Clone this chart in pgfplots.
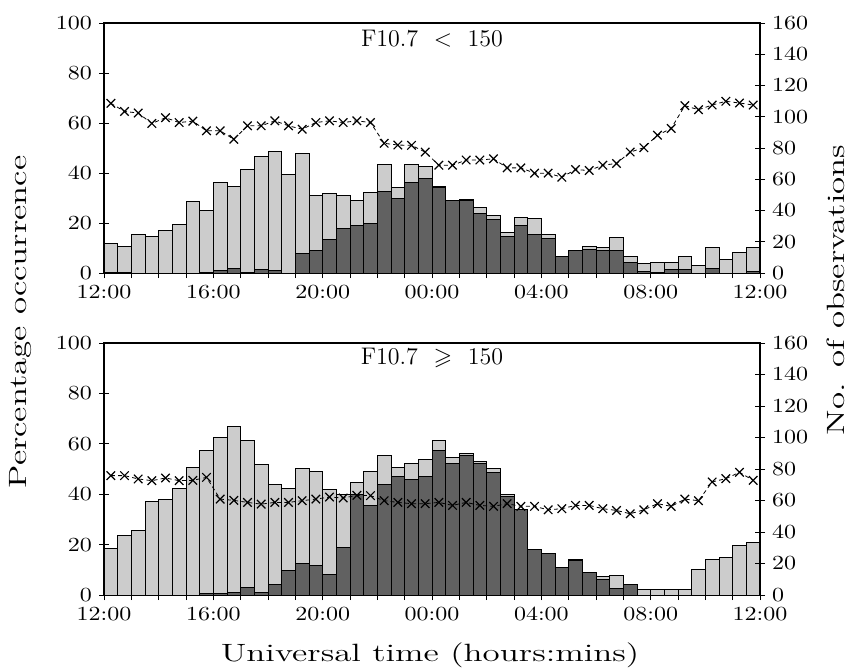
\documentclass[border=0pt]{standalone}
\usepackage{amssymb}
\usepackage{graphicx}
\usepackage{fontspec}
\usepackage{pgfplots}
\usepackage{pgfplotstable}
\pgfplotsset{compat=1.18}
\definecolor{lightc}{gray}{0.80}
\definecolor{darkc}{gray}{0.38}
\newcommand\lbl{\fontsize{12.5}{14}\selectfont}
\newcommand\wide[1]{\scalebox{1.4}[1]{#1}}
\newcommand\tl[1]{\scalebox{1.2}[1]{#1}}
\newcommand\ttl{\fontsize{12}{14}\selectfont}

\pgfplotstableread{
x L1 D1 C1 L2 D2 C2
0.25 12.0 0.3 108.6 18.4 0 75.8
0.75 10.5 0.3 103.4 23.5 0 75.8
1.25 15.5 0 102.4 25.7 0 73.7
1.75 14.7 0 95.7 37.0 0 72.6
2.25 17.0 0 99.4 37.8 0 74.3
2.75 19.5 0 96.3 42.4 0 72.6
3.25 28.8 0 97.2 50.8 0 72.8
3.75 25.1 0.4 91.0 57.3 0.6 74.7
4.25 36.2 1.0 91.0 62.4 0.6 60.9
4.75 34.8 1.8 85.6 66.8 1.0 60.1
5.25 41.4 0.4 94.2 61.3 3.1 58.8
5.75 46.8 1.3 94.2 51.7 0.9 57.7
6.25 48.5 1.0 97.4 44.0 4.3 58.8
6.75 39.4 0 94.2 42.4 9.6 58.8
7.25 47.7 7.8 92.0 50.1 12.4 59.9
7.75 31.2 9.1 96.3 49.2 11.8 60.9
8.25 32.0 13.4 97.4 42.0 8.2 62.2
8.75 31.2 17.9 96.3 39.8 18.9 61.6
9.25 28.9 19.2 97.4 44.5 40.0 63.3
9.75 32.4 19.9 96.3 49.2 35.5 63.1
10.25 43.4 32.7 83.0 55.2 43.8 59.9
10.75 34.3 30.0 81.9 50.8 46.9 58.8
11.25 43.3 36.4 81.7 52.1 45.9 58.0
11.75 42.7 37.8 77.4 53.9 47.2 58.0
12.25 34.7 34.4 69.0 61.4 57.4 58.8
12.75 28.9 28.9 69.0 54.5 52.1 56.9
13.25 29.3 29.0 72.3 56.1 55.2 58.8
13.75 26.3 23.7 72.3 52.9 52.1 56.9
14.25 23.0 21.5 73.1 50.3 48.5 56.3
14.75 16.3 14.8 67.3 39.9 39.2 58.0
15.25 22.4 19.1 67.3 33.9 33.9 56.3
15.75 21.9 15.5 63.9 18.0 18.0 56.3
16.25 15.5 13.7 63.9 16.6 16.6 54.1
16.75 6.7 6.7 61.3 11.0 11.0 54.8
17.25 9.1 8.9 66.2 14.2 13.6 56.9
17.75 10.6 9.5 65.6 9.0 9.0 56.9
18.25 10.2 9.1 69.0 7.3 6.0 54.8
18.75 14.2 9.0 70.1 7.6 2.7 53.7
19.25 6.5 4.2 77.4 4.0 4.0 51.6
19.75 3.8 0.8 80.2 2.3 0 54.1
20.25 4.4 0.4 88.2 2.0 0 58.0
20.75 4.2 1.3 92.5 2.3 0 56.3
21.25 6.5 1.3 107.1 2.0 0 60.9
21.75 3.0 0 104.5 10.2 0 59.9
22.25 10.2 1.7 107.5 14.0 0 71.8
22.75 5.4 0 109.9 15.0 0 73.9
23.25 8.1 0 108.8 19.5 0 77.9
23.75 10.2 0.8 107.5 20.9 0 72.8
}\data

\pgfplotsset{
  panel/.style={
    scale only axis, width=328pt, xmin=0, xmax=24,
    tick align=center, major tick length=5pt, minor tick length=5pt,
    every tick/.style={black, line width=0.5pt},
    axis line style={line width=0.6pt},
    tick label style={font=\fontsize{10}{12}\selectfont},
    yticklabel={\tl{$\pgfmathprintnumber{\tick}$}},
  },
  leftax/.style={panel, ymin=0, ymax=100, ytick={0,20,...,100},
    xtick={0,4,...,24}, minor xtick={0,1,...,24},
    xticklabels={\tl{12:00},\tl{16:00},\tl{20:00},\tl{00:00},\tl{04:00},\tl{08:00},\tl{12:00}},
    xtick pos=left, ytick pos=left},
  rightax/.style={panel, ymin=0, ymax=160, ytick={0,20,...,160},
    axis y line*=right, hide x axis},
  lightbar/.style={ybar, bar width=0.5, bar shift=0pt, fill=lightc, draw=black, line width=0.5pt},
  darkbar/.style={ybar, bar width=0.5, bar shift=0pt, fill=darkc, draw=black, line width=0.5pt},
  obs/.style={black, line width=0.4pt, dash pattern=on 2pt off 1.6pt, mark=x, mark size=3pt, mark options={solid, line width=0.6pt}},
}

\begin{document}
\begin{tikzpicture}
\path[use as bounding box] (0pt,0pt) rectangle (424.5pt,-335.5pt);

% top panel
\begin{axis}[leftax, at={(52pt,-136.5pt)}, anchor=south west, height=125pt]
\addplot[lightbar] table[x=x,y=L1]{\data};
\addplot[darkbar] table[x=x,y=D1]{\data};
\node[font=\ttl] at (rel axis cs:0.5,0.936) {F10.7\ \ $<$\ \ 150};
\end{axis}
\begin{axis}[rightax, at={(52pt,-136.5pt)}, anchor=south west, height=125pt]
\addplot[obs] table[x=x,y=C1]{\data};
\end{axis}

% bottom panel
\begin{axis}[leftax, at={(52pt,-297.5pt)}, anchor=south west, height=126pt]
\addplot[lightbar] table[x=x,y=L2]{\data};
\addplot[darkbar] table[x=x,y=D2]{\data};
\node[font=\ttl] at (rel axis cs:0.5,0.942) {F10.7\ \ $\geqslant$\ \ 150};
\end{axis}
\begin{axis}[rightax, at={(52pt,-297.5pt)}, anchor=south west, height=126pt]
\addplot[obs] table[x=x,y=C2]{\data};
\end{axis}

\node[font=\lbl, rotate=90] at (10.5pt,-161pt) {\wide{Percentage occurrence}};
\node[font=\lbl, rotate=90] at (418pt,-145pt) {\wide{No. of observations}};
\node[font=\lbl] at (215pt,-327.5pt) {\wide{Universal time (hours:mins)}};
\end{tikzpicture}
\end{document}
